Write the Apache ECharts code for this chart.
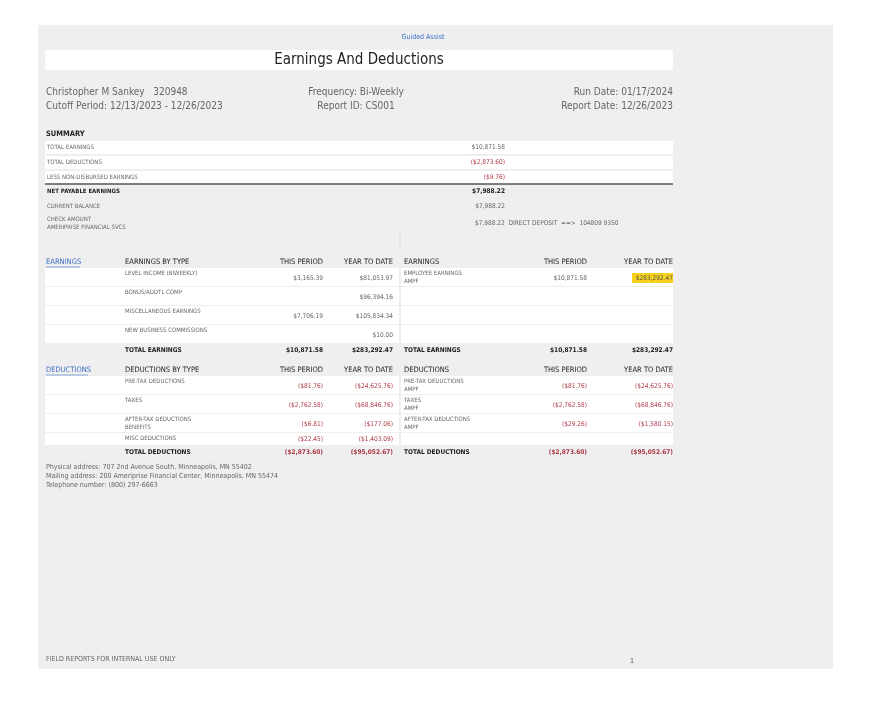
<!DOCTYPE html>
<html><head><meta charset="utf-8">
<script src="https://cdn.jsdelivr.net/npm/echarts@6/dist/echarts.min.js"></script>
<style>html,body{margin:0;background:#fff}#main{width:870px;height:704px}</style>
</head><body><div id="main"></div>
<script>
// summary block
var summaryLabels = ['TOTAL EARNINGS','TOTAL DEDUCTIONS','LESS NON-DISBURSED EARNINGS'];
var summaryValues = ['$10,871.58','($2,873.60)','($9.76)'];
// earnings by type
var earnTypes = ['LEVEL INCOME (BIWEEKLY)','BONUS/ADDTL COMP','MISCELLANEOUS EARNINGS','NEW BUSINESS COMMISSIONS'];
var earnPeriod = ['$3,165.39','','$7,706.19',''];
var earnYtd = ['$81,053.97','$96,394.16','$105,834.34','$10.00'];
var earnTotal = ['$10,871.58','$283,292.47'];
// deductions by type
var dedTypes = [['PRE-TAX DEDUCTIONS'],['TAXES'],['AFTER-TAX DEDUCTIONS','BENEFITS'],['MISC DEDUCTIONS']];
var dedPeriod = ['($81.76)','($2,762.58)','($6.81)','($22.45)'];
var dedYtd = ['($24,625.76)','($68,846.76)','($177.06)','($1,403.09)'];
var dedTotal = ['($2,873.60)','($95,052.67)'];
// right-hand tables
var rDedTypes = [['PRE-TAX DEDUCTIONS','AMPF'],['TAXES','AMPF'],['AFTER-TAX DEDUCTIONS','AMPF']];
var rDedPeriod = ['($81.76)','($2,762.58)','($29.26)'];
var rDedYtd = ['($24,625.76)','($68,846.76)','($1,580.15)'];

var FONT = '"Liberation Sans Narrow","DejaVu Sans Condensed",sans-serif';
var RED = '#b03a4a', GREY = '#666', DARK = '#222';
var els = [];
function rect(x,y,w,h,fill){ els.push({type:'rect',shape:{x:x,y:y,width:w,height:h},style:{fill:fill},silent:true}); }
function line(x1,y1,x2,y2,c,w){ els.push({type:'line',shape:{x1:x1,y1:y1,x2:x2,y2:y2},style:{stroke:c,lineWidth:w||1}}); }
function txt(x,y,s,o){
  o=o||{};
  els.push({type:'text',x:x,y:y,style:{text:s,fill:o.c||GREY,font:(o.b?'bold ':'')+(o.s||7)+'px '+FONT,
    textAlign:o.a||'left',textVerticalAlign:'middle'}});
}

rect(38,25,795,644,'#efefef');
txt(423,37,'Guided Assist',{c:'#3a6fc4',s:7,a:'center'});
rect(45,50,628,20,'#fff');
txt(359,60,'Earnings And Deductions',{c:DARK,s:15,a:'center'});
txt(46,92,'Christopher M Sankey   320948',{s:10});
txt(46,106,'Cutoff Period: 12/13/2023 - 12/26/2023',{s:10});
txt(356,92,'Frequency: Bi-Weekly',{s:10,a:'center'});
txt(356,106,'Report ID: CS001',{s:10,a:'center'});
txt(673,92,'Run Date: 01/17/2024',{s:10,a:'right'});
txt(673,106,'Report Date: 12/26/2023',{s:10,a:'right'});

txt(46,134,'SUMMARY',{c:DARK,s:7.5,b:true});
summaryLabels.forEach(function(l,i){
  var y=141+i*15;
  rect(45,y,628,13,'#fff');
  txt(47,y+6.5,l,{s:6});
  txt(505,y+6.5,summaryValues[i],{s:6.5,a:'right',c:i?RED:GREY});
});
line(45,184,673,184,'#555',1.5);
txt(47,191,'NET PAYABLE EARNINGS',{c:DARK,s:6,b:true});
txt(505,191,'$7,988.22',{c:DARK,s:6.5,b:true,a:'right'});
txt(47,206,'CURRENT BALANCE',{s:6});
txt(505,206,'$7,988.22',{s:6.5,a:'right'});
txt(47,219,'CHECK AMOUNT',{s:6});
txt(47,227,'AMERIPRISE FINANCIAL SVCS',{s:6});
txt(475,223,'$7,988.22  DIRECT DEPOSIT  ==>  104809 9350',{s:6.5});
line(400,232,400,248,'#ddd',1);

// earnings section
function header(y,a,b,c){
  txt(46,y,a,{c:'#3a6fc4',s:7.5});
  txt(125,y,b,{c:DARK,s:7.5});
  txt(323,y,'THIS PERIOD',{c:DARK,s:7.5,a:'right'});
  txt(393,y,'YEAR TO DATE',{c:DARK,s:7.5,a:'right'});
  txt(404,y,c,{c:DARK,s:7.5});
  txt(587,y,'THIS PERIOD',{c:DARK,s:7.5,a:'right'});
  txt(673,y,'YEAR TO DATE',{c:DARK,s:7.5,a:'right'});
}
header(262,'EARNINGS','EARNINGS BY TYPE','EARNINGS');
line(46,267,80,267,'#3a6fc4',0.6);
earnTypes.forEach(function(t,i){
  var y=268+i*19;
  rect(45,y,354,18,'#fff'); rect(401,y,272,18,'#fff');
  txt(125,y+5,t,{s:6});
  if(earnPeriod[i]) txt(323,y+10,earnPeriod[i],{s:6.5,a:'right'});
  txt(393,y+10,earnYtd[i],{s:6.5,a:'right'});
});
txt(404,273,'EMPLOYEE EARNINGS',{s:6});
txt(404,281,'AMPF',{s:6});
txt(587,278,earnTotal[0],{s:6.5,a:'right'});
rect(632,273,41,10,'#f7d21a');
txt(673,278,earnTotal[1],{s:6.5,a:'right',c:'#555'});
[[125,'TOTAL EARNINGS'],[404,'TOTAL EARNINGS']].forEach(function(p){txt(p[0],350,p[1],{c:DARK,s:6.5,b:true});});
txt(323,350,earnTotal[0],{c:DARK,s:6.5,b:true,a:'right'});
txt(393,350,earnTotal[1],{c:DARK,s:6.5,b:true,a:'right'});
txt(587,350,earnTotal[0],{c:DARK,s:6.5,b:true,a:'right'});
txt(673,350,earnTotal[1],{c:DARK,s:6.5,b:true,a:'right'});

// deductions section
header(370,'DEDUCTIONS','DEDUCTIONS BY TYPE','DEDUCTIONS');
line(46,375,88,375,'#3a6fc4',0.6);
var dy=[376,395,414,433], dh=[18,18,18,12];
dedTypes.forEach(function(t,i){
  var y=dy[i];
  rect(45,y,354,dh[i],'#fff'); rect(401,y,272,dh[i],'#fff');
  t.forEach(function(s,k){txt(125,y+5+k*8,s,{s:6});});
  var vy = i==3 ? y+6 : y+10;
  txt(323,vy,dedPeriod[i],{s:6.5,a:'right',c:RED});
  txt(393,vy,dedYtd[i],{s:6.5,a:'right',c:RED});
  if(i<rDedTypes.length){
    rDedTypes[i].forEach(function(s,k){txt(404,y+5+k*8,s,{s:6});});
    txt(587,vy,rDedPeriod[i],{s:6.5,a:'right',c:RED});
    txt(673,vy,rDedYtd[i],{s:6.5,a:'right',c:RED});
  }
});
txt(125,452,'TOTAL DEDUCTIONS',{c:DARK,s:6.5,b:true});
txt(404,452,'TOTAL DEDUCTIONS',{c:DARK,s:6.5,b:true});
txt(323,452,dedTotal[0],{c:RED,s:6.5,b:true,a:'right'});
txt(393,452,dedTotal[1],{c:RED,s:6.5,b:true,a:'right'});
txt(587,452,dedTotal[0],{c:RED,s:6.5,b:true,a:'right'});
txt(673,452,dedTotal[1],{c:RED,s:6.5,b:true,a:'right'});

txt(46,467,'Physical address: 707 2nd Avenue South, Minneapolis, MN 55402',{s:7});
txt(46,476,'Mailing address: 200 Ameriprise Financial Center, Minneapolis, MN 55474',{s:7});
txt(46,485,'Telephone number: (800) 297-6663',{s:7});
txt(46,659,'FIELD REPORTS FOR INTERNAL USE ONLY',{s:7});
txt(632,661,'1',{s:7,c:'#555',a:'center'});

var chart = echarts.init(document.getElementById('main'));
chart.setOption({animation:false, graphic:{elements:els}});
</script></body></html>
